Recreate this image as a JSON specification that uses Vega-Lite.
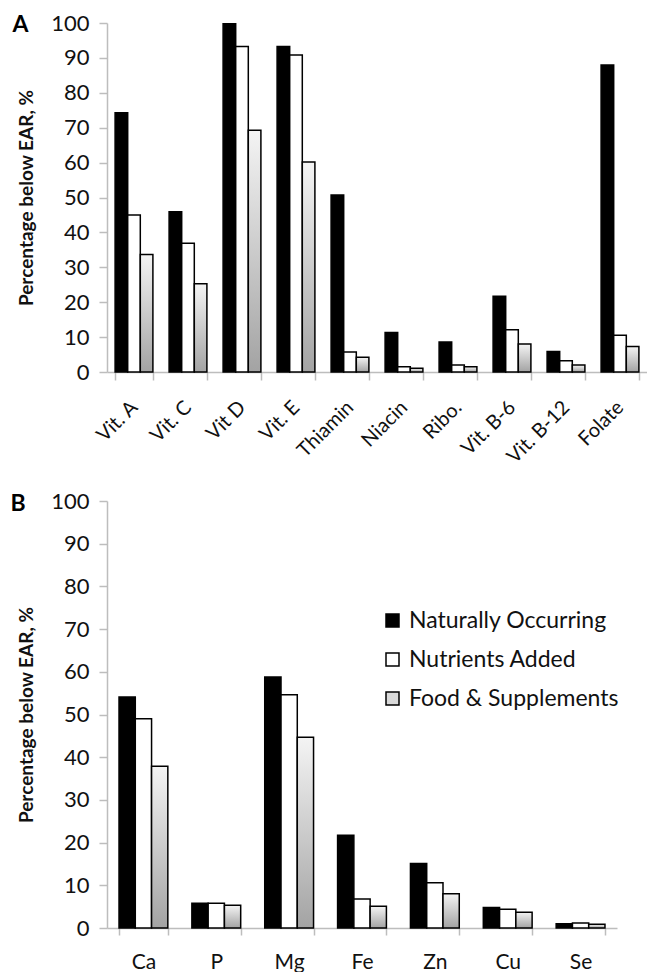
{
  "$schema": "https://vega.github.io/schema/vega-lite/v6.json",
  "padding": {"left": 10, "top": 12, "right": 0, "bottom": 0},
  "spacing": 23,
  "config": {
    "font": "Lato",
    "view": {"stroke": null},
    "axis": {"domainColor": "#bdbdbd", "domainWidth": 1.5, "tickColor": "#bdbdbd", "tickWidth": 1.5, "labelColor": "#111111", "labelFont": "Lato", "titleFont": "Lato", "titleColor": "#111111", "grid": false}
  },
  "datasets": {
    "a": [
      {"nutrient": "Vit. A", "series": "Naturally Occurring", "value": 74.3},
      {"nutrient": "Vit. A", "series": "Nutrients Added", "value": 45.0},
      {"nutrient": "Vit. A", "series": "Food & Supplements", "value": 33.7},
      {"nutrient": "Vit. C", "series": "Naturally Occurring", "value": 45.9},
      {"nutrient": "Vit. C", "series": "Nutrients Added", "value": 36.9},
      {"nutrient": "Vit. C", "series": "Food & Supplements", "value": 25.3},
      {"nutrient": "Vit D", "series": "Naturally Occurring", "value": 99.8},
      {"nutrient": "Vit D", "series": "Nutrients Added", "value": 93.3},
      {"nutrient": "Vit D", "series": "Food & Supplements", "value": 69.3},
      {"nutrient": "Vit. E", "series": "Naturally Occurring", "value": 93.3},
      {"nutrient": "Vit. E", "series": "Nutrients Added", "value": 90.8},
      {"nutrient": "Vit. E", "series": "Food & Supplements", "value": 60.2},
      {"nutrient": "Thiamin", "series": "Naturally Occurring", "value": 50.7},
      {"nutrient": "Thiamin", "series": "Nutrients Added", "value": 5.7},
      {"nutrient": "Thiamin", "series": "Food & Supplements", "value": 4.2},
      {"nutrient": "Niacin", "series": "Naturally Occurring", "value": 11.3},
      {"nutrient": "Niacin", "series": "Nutrients Added", "value": 1.5},
      {"nutrient": "Niacin", "series": "Food & Supplements", "value": 1.1},
      {"nutrient": "Ribo.", "series": "Naturally Occurring", "value": 8.6},
      {"nutrient": "Ribo.", "series": "Nutrients Added", "value": 2.0},
      {"nutrient": "Ribo.", "series": "Food & Supplements", "value": 1.5},
      {"nutrient": "Vit. B-6", "series": "Naturally Occurring", "value": 21.7},
      {"nutrient": "Vit. B-6", "series": "Nutrients Added", "value": 12.1},
      {"nutrient": "Vit. B-6", "series": "Food & Supplements", "value": 8.0},
      {"nutrient": "Vit. B-12", "series": "Naturally Occurring", "value": 5.9},
      {"nutrient": "Vit. B-12", "series": "Nutrients Added", "value": 3.2},
      {"nutrient": "Vit. B-12", "series": "Food & Supplements", "value": 2.0},
      {"nutrient": "Folate", "series": "Naturally Occurring", "value": 88.0},
      {"nutrient": "Folate", "series": "Nutrients Added", "value": 10.5},
      {"nutrient": "Folate", "series": "Food & Supplements", "value": 7.3}
    ],
    "b": [
      {"nutrient": "Ca", "series": "Naturally Occurring", "value": 54.1},
      {"nutrient": "Ca", "series": "Nutrients Added", "value": 49.0},
      {"nutrient": "Ca", "series": "Food & Supplements", "value": 37.9},
      {"nutrient": "P", "series": "Naturally Occurring", "value": 5.8},
      {"nutrient": "P", "series": "Nutrients Added", "value": 5.8},
      {"nutrient": "P", "series": "Food & Supplements", "value": 5.3},
      {"nutrient": "Mg", "series": "Naturally Occurring", "value": 58.8},
      {"nutrient": "Mg", "series": "Nutrients Added", "value": 54.6},
      {"nutrient": "Mg", "series": "Food & Supplements", "value": 44.7},
      {"nutrient": "Fe", "series": "Naturally Occurring", "value": 21.7},
      {"nutrient": "Fe", "series": "Nutrients Added", "value": 6.8},
      {"nutrient": "Fe", "series": "Food & Supplements", "value": 5.1},
      {"nutrient": "Zn", "series": "Naturally Occurring", "value": 15.1},
      {"nutrient": "Zn", "series": "Nutrients Added", "value": 10.6},
      {"nutrient": "Zn", "series": "Food & Supplements", "value": 8.0},
      {"nutrient": "Cu", "series": "Naturally Occurring", "value": 4.8},
      {"nutrient": "Cu", "series": "Nutrients Added", "value": 4.4},
      {"nutrient": "Cu", "series": "Food & Supplements", "value": 3.7},
      {"nutrient": "Se", "series": "Naturally Occurring", "value": 1.0},
      {"nutrient": "Se", "series": "Nutrients Added", "value": 1.2},
      {"nutrient": "Se", "series": "Food & Supplements", "value": 0.9}
    ]
  },
  "vconcat": [
    {
      "data": {"name": "a"},
      "width": 540,
      "height": 349,
      "mark": {"type": "bar", "stroke": "black", "strokeWidth": 1.5},
      "encoding": {
        "x": {
          "field": "nutrient", "type": "nominal", "title": "A",
          "sort": ["Vit. A", "Vit. C", "Vit D", "Vit. E", "Thiamin", "Niacin", "Ribo.", "Vit. B-6", "Vit. B-12", "Folate"],
          "scale": {"paddingInner": 0.3, "paddingOuter": 0.15},
          "axis": {"labelAngle": -45, "labelAlign": "right", "labelBaseline": "middle", "labelFontSize": 20, "tickBand": "extent", "tickSize": 8, "labelPadding": 24, "titleX": -95, "titleY": -348, "titleAngle": 0, "titleAlign": "left", "titleBaseline": "middle", "titleFontSize": 23, "titleFontWeight": "bold", "titleColor": "#000000"}
        },
        "xOffset": {
          "field": "series", "type": "nominal",
          "sort": ["Naturally Occurring", "Nutrients Added", "Food & Supplements"],
          "scale": {"paddingInner": 0, "paddingOuter": 0}
        },
        "y": {
          "field": "value", "type": "quantitative", "title": "Percentage below EAR, %",
          "scale": {"domain": [0, 100]},
          "axis": {"values": [0, 10, 20, 30, 40, 50, 60, 70, 80, 90, 100], "labelFontSize": 22, "titleFontSize": 19, "titleFontWeight": "bold", "tickSize": 8, "labelPadding": 10, "titlePadding": 14}
        },
        "fill": {
          "condition": {"test": "datum.series === 'Food & Supplements'", "value": {"gradient": "linear", "x1": 0, "y1": 0, "x2": 0, "y2": 1, "stops": [{"offset": 0, "color": "#f4f4f4"}, {"offset": 1, "color": "#a3a3a3"}]}},
          "field": "series", "type": "nominal",
          "scale": {"domain": ["Naturally Occurring", "Nutrients Added", "Food & Supplements"], "range": ["#000000", "#ffffff", "#d9d9d9"]},
          "legend": null
        }
      }
    },
    {
      "data": {"name": "b"},
      "width": 510,
      "height": 427,
      "mark": {"type": "bar", "stroke": "black", "strokeWidth": 1.5},
      "encoding": {
        "x": {
          "field": "nutrient", "type": "nominal", "title": "B",
          "sort": ["Ca", "P", "Mg", "Fe", "Zn", "Cu", "Se"],
          "scale": {"paddingInner": 0.33, "paddingOuter": 0.165},
          "axis": {"labelAngle": 0, "labelFontSize": 21, "tickBand": "extent", "tickSize": 7, "labelPadding": 16, "titleX": -97, "titleY": -425, "titleAngle": 0, "titleAlign": "left", "titleBaseline": "middle", "titleFontSize": 23, "titleFontWeight": "bold", "titleColor": "#000000"}
        },
        "xOffset": {
          "field": "series", "type": "nominal",
          "sort": ["Naturally Occurring", "Nutrients Added", "Food & Supplements"],
          "scale": {"paddingInner": 0, "paddingOuter": 0}
        },
        "y": {
          "field": "value", "type": "quantitative", "title": "Percentage below EAR, %",
          "scale": {"domain": [0, 100]},
          "axis": {"values": [0, 10, 20, 30, 40, 50, 60, 70, 80, 90, 100], "labelFontSize": 22, "titleFontSize": 19, "titleFontWeight": "bold", "tickSize": 8, "labelPadding": 10, "titlePadding": 14}
        },
        "fill": {
          "condition": {"test": "datum.series === 'Food & Supplements'", "value": {"gradient": "linear", "x1": 0, "y1": 0, "x2": 0, "y2": 1, "stops": [{"offset": 0, "color": "#f4f4f4"}, {"offset": 1, "color": "#a3a3a3"}]}},
          "field": "series", "type": "nominal",
          "scale": {"domain": ["Naturally Occurring", "Nutrients Added", "Food & Supplements"], "range": ["#000000", "#ffffff", "#d9d9d9"]},
          "legend": {"orient": "none", "legendX": 274, "legendY": 108, "direction": "vertical", "title": null, "symbolType": "square", "symbolSize": 169, "symbolStrokeColor": "#000000", "symbolStrokeWidth": 1.5, "labelFontSize": 23, "labelFont": "Lato", "labelColor": "#111111", "labelLimit": 0, "rowPadding": 15, "padding": 0, "labelOffset": 5}
        }
      }
    }
  ],
  "resolve": {"scale": {"x": "independent", "xOffset": "independent", "y": "independent", "fill": "independent"}}
}
